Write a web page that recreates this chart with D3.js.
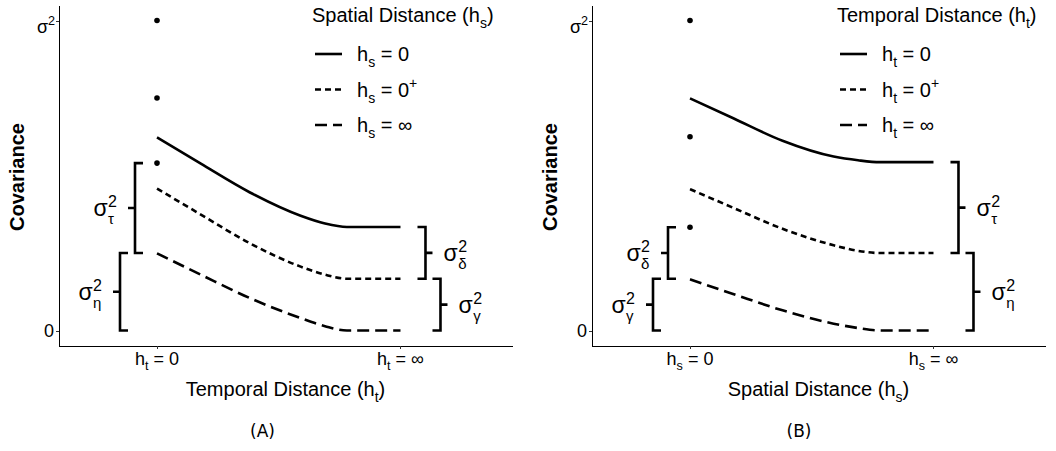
<!DOCTYPE html>
<html>
<head>
<meta charset="utf-8">
<title>Covariance sketch</title>
<style>
  body { margin: 0; background: #fff; }
  svg text { font-family: "Liberation Sans", Arial, sans-serif; fill: #000; }
  .axis path, .axis line { stroke: #000; shape-rendering: crispEdges; }
  .axis .tick line { stroke: #333; }
  .curve { fill: none; stroke: #000; stroke-width: 2.6px; }
  .brace { fill: none; stroke: #000; stroke-width: 2.6px; }
  .caption { font-family: "DejaVu Sans", sans-serif !important; }
</style>
</head>
<body>
<svg id="chart" width="1056" height="451"></svg>
<script src="https://cdn.jsdelivr.net/npm/d3@7"></script>
<script>

// distance grid (0 = zero distance, 1 = infinite distance)
var distGrid   = [0, 0.18, 0.38, 0.59, 0.69, 0.78, 1];

// panel A: covariance vs temporal distance, one line per spatial distance
var covA_h0     = [0.623, 0.538, 0.446, 0.370, 0.345, 0.334, 0.334];
var covA_h0plus = [0.458, 0.374, 0.282, 0.206, 0.180, 0.167, 0.167];
var covA_hInf   = [0.249, 0.180, 0.105, 0.040, 0.014, 0, 0];
var dotsA       = [1, 0.75, 0.54];

// panel B: covariance vs spatial distance, one line per temporal distance
var covB_h0     = [0.749, 0.684, 0.612, 0.561, 0.549, 0.543, 0.543];
var covB_h0plus = [0.456, 0.395, 0.328, 0.275, 0.257, 0.250, 0.250];
var covB_hInf   = [0.165, 0.117, 0.065, 0.022, 0.008, 0, 0];
var dotsB       = [1, 0.625, 0.333];

// variance components shown with brackets: [subscript, low, high]
var bracesA_left  = [["τ", 0.25, 0.54], ["η", 0, 0.25]];
var bracesA_right = [["δ", 0.167, 0.334], ["γ", 0, 0.167]];
var bracesB_left  = [["δ", 0.167, 0.333], ["γ", 0, 0.167]];
var bracesB_right = [["τ", 0.25, 0.543], ["η", 0, 0.25]];

var xTicks       = [0, 1];
var xTickLevels  = ["0", "∞"];
var yTicks       = [0, 1];
var legendLevels = ["0", "0+", "∞"];
var panelNames   = ["(A)", "(B)"];
var axisNames    = ["Temporal Distance", "Spatial Distance"];
var axisSubs     = ["t", "s"];

var panels = [
  { name: panelNames[0], xName: axisNames[0], xSub: axisSubs[0], legName: axisNames[1], legSub: axisSubs[1],
    lines: [covA_h0, covA_h0plus, covA_hInf], dots: dotsA, left: bracesA_left, right: bracesA_right,
    shift: 0, legendX: 312, capX: 262.5 },
  { name: panelNames[1], xName: axisNames[1], xSub: axisSubs[1], legName: axisNames[0], legSub: axisSubs[0],
    lines: [covB_h0, covB_h0plus, covB_hInf], dots: dotsB, left: bracesB_left, right: bracesB_right,
    shift: 533, legendX: 304, capX: 266 }
];

var dashes = [null, "6,4", "12,6"];

var svg = d3.select("#chart");

var x = d3.scaleLinear().domain([-0.4025, 1.458]).range([59, 512]);
var y = d3.scaleLinear().domain([-0.05, 1.05]).range([346, 5]);

var line = d3.line()
  .x(function(d) { return x(d[0]); })
  .y(function(d) { return y(d[1]); })
  .curve(d3.curveMonotoneX);

// text with sub/superscripts, parts = [[string, "n"|"sub"|"sup"], ...]
function rich(text, fs, parts) {
  var cur = 0;
  text.style("font-size", fs + "px");
  parts.forEach(function(p) {
    var k = p[1];
    var target = k === "sub" ? fs * 0.3 : k === "sup" ? -fs * 0.42 : 0;
    text.append("tspan")
      .attr("dy", target - cur)
      .style("font-size", (k === "n" ? fs : fs * 0.7) + "px")
      .text(p[0]);
    cur = target;
  });
}

function sigmaLabel(g, xAt, yMid, sub, anchor) {
  var lg = g.append("g");
  var s = lg.append("text").attr("x", 0).attr("y", yMid + 8).style("font-size", "23px").text("σ");
  var w = s.node().getComputedTextLength() + 0.5;
  var sp = lg.append("text").attr("x", w).attr("y", yMid - 1).style("font-size", "16px").text("2");
  var sb = lg.append("text").attr("x", w).attr("y", yMid + 16).style("font-size", "15px").text(sub);
  var tw = w + Math.max(sp.node().getComputedTextLength(), sb.node().getComputedTextLength());
  lg.attr("transform", "translate(" + (anchor === "end" ? xAt - tw : xAt) + ",0)");
}

function brace(g, b, xb, side) {
  var d = side === "left" ? 1 : -1;     // direction the end caps point
  var y0 = y(b[1]), y1 = y(b[2]), ym = (y0 + y1) / 2;
  g.append("path").attr("class", "brace")
    .attr("d", "M" + (xb + 8 * d) + "," + y1 + "H" + xb + "V" + y0 + "H" + (xb + 8 * d) +
               "M" + xb + "," + ym + "H" + (xb - 7 * d));
  if (side === "left") sigmaLabel(g, xb - 18, ym, b[0], "end");
  else sigmaLabel(g, xb + 18, ym, b[0], "start");
}

panels.forEach(function(p) {
  var g = svg.append("g").attr("transform", "translate(" + p.shift + ",0)");

  // axes
  g.append("g").attr("class", "axis")
    .attr("transform", "translate(0,346)")
    .call(d3.axisBottom(x).tickValues(xTicks).tickSize(3).tickSizeOuter(0).tickFormat(""));
  g.append("g").attr("class", "axis")
    .attr("transform", "translate(59,0)")
    .call(d3.axisLeft(y).tickValues(yTicks).tickSize(3).tickSizeOuter(0).tickFormat(""));

  xTicks.forEach(function(t, i) {
    rich(g.append("text").attr("x", x(t)).attr("y", 365).attr("text-anchor", "middle"), 18,
      [["h", "n"], [p.xSub, "sub"], [" = " + xTickLevels[i], "n"]]);
  });
  g.append("text").attr("x", 54).attr("y", y(yTicks[0]) + 6.5).attr("text-anchor", "end")
    .style("font-size", "18px").text("0");
  rich(g.append("text").attr("x", 55).attr("y", y(yTicks[1]) + 12.5).attr("text-anchor", "end"), 18,
    [["σ", "n"], ["2", "sup"]]);

  // titles
  rich(g.append("text").attr("x", (59 + 512) / 2).attr("y", 396).attr("text-anchor", "middle"), 20,
    [[p.xName + " (h", "n"], [p.xSub, "sub"], [")", "n"]]);
  g.append("text")
    .attr("transform", "translate(24,177) rotate(-90)")
    .attr("text-anchor", "middle")
    .style("font-size", "20px").style("font-weight", "bold")
    .text("Covariance");
  g.append("text").attr("class", "caption")
    .attr("x", p.capX).attr("y", 437).attr("text-anchor", "middle")
    .style("font-size", "17px").text(p.name);

  // curves
  p.lines.forEach(function(vals, i) {
    g.append("path").attr("class", "curve")
      .attr("d", line(distGrid.map(function(t, j) { return [t, vals[j]]; })))
      .attr("stroke-dasharray", dashes[i]);
  });

  g.selectAll("circle.pt").data(p.dots).enter().append("circle")
    .attr("class", "pt")
    .attr("cx", x(0)).attr("cy", function(d) { return y(d); })
    .attr("r", 2.8).attr("fill", "#000");

  // brackets
  p.left.forEach(function(b, i) { brace(g, b, x(0) - 22 - 15 * i, "left"); });
  p.right.forEach(function(b, i) { brace(g, b, x(1) + 25 + 15 * i, "right"); });

  // legend
  var lg = g.append("g").attr("transform", "translate(" + p.legendX + ",0)");
  rich(lg.append("text").attr("x", 0).attr("y", 22), 20,
    [[p.legName + " (h", "n"], [p.legSub, "sub"], [")", "n"]]);
  legendLevels.forEach(function(lv, i) {
    var ly = 54 + i * 35.5;
    lg.append("line").attr("class", "curve")
      .attr("x1", 3).attr("x2", 30).attr("y1", ly).attr("y2", ly)
      .attr("stroke-dasharray", dashes[i]);
    var parts = [["h", "n"], [p.legSub, "sub"], [" = " + lv.replace("+", ""), "n"]];
    if (lv.indexOf("+") >= 0) parts.push(["+", "sup"]);
    rich(lg.append("text").attr("x", 45).attr("y", ly + 7), 20, parts);
  });
});

</script>
</body>
</html>
